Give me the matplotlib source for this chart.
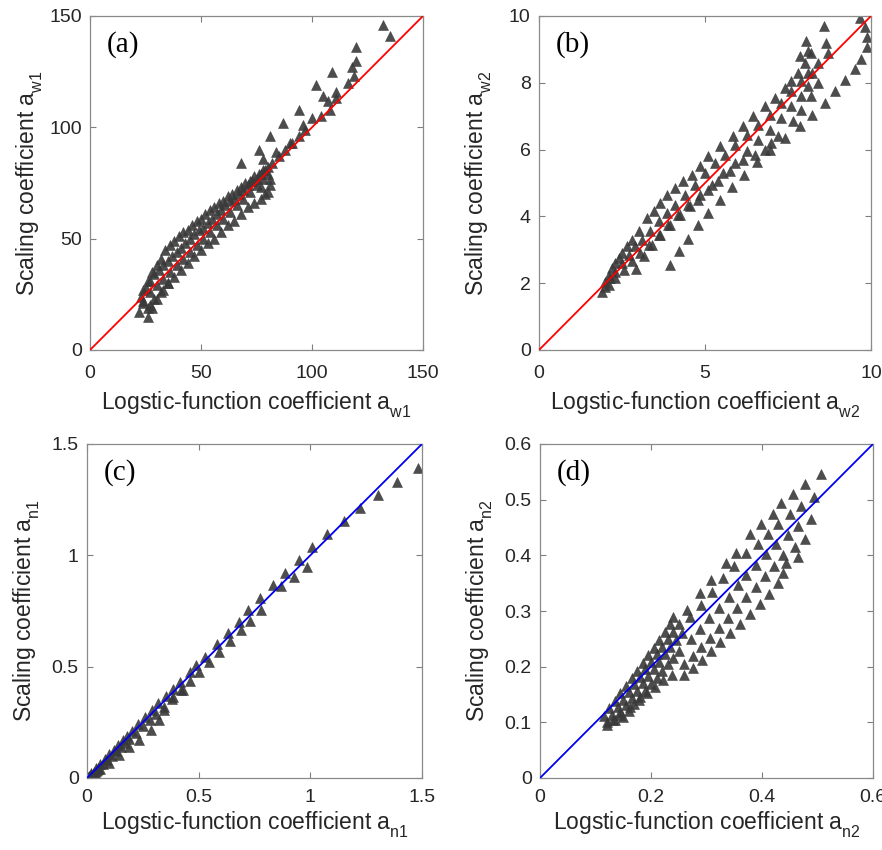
import matplotlib
matplotlib.use("Agg")
import matplotlib.pyplot as plt

plt.rcParams['font.family'] = ['Liberation Sans', 'DejaVu Sans']
plt.rcParams['mathtext.fontset'] = 'custom'
plt.rcParams['mathtext.rm'] = 'Liberation Sans'
plt.rcParams['mathtext.it'] = 'Liberation Sans'
try:
    from matplotlib import _mathtext
    _mathtext.FontConstantsBase.sub1 = 0.65
    _mathtext.FontConstantsBase.subdrop = 0.4
except Exception:
    pass

# ---------------- Panel (a): a_w1 ----------------
a_x1 = [24, 26, 28, 30, 32, 34, 36, 38, 40, 42, 44, 46, 48, 50, 52, 54, 56, 58, 60, 62, 64, 66, 68, 70, 72, 74, 76, 78]
a_y1 = [27, 31, 35, 38, 41, 45, 47, 49, 51, 53, 54, 56, 58, 59, 61, 63, 64, 66, 67, 69, 70, 72, 73, 75, 76, 78, 79, 81]
a_x2 = [23, 25, 27, 29, 31, 33, 35, 37, 39, 41, 43, 45, 47, 49, 51, 53, 55, 57, 59, 61, 63, 65, 67, 69, 71, 73, 75, 77, 79]
a_y2 = [24, 28, 31, 34, 36, 38, 40, 42, 44, 46, 48, 50, 52, 54, 55, 57, 59, 61, 63, 65, 67, 68, 70, 72, 74, 76, 77, 79, 81]
a_x3 = [24, 27, 30, 33, 36, 39, 42, 45, 48, 51, 54, 57, 60, 63, 66, 69, 72, 75, 78, 80]
a_y3 = [22, 26, 29, 32, 35, 38, 41, 44, 47, 50, 53, 56, 59, 62, 65, 68, 71, 74, 77, 79]
a_x4 = [26, 29, 32, 35, 38, 41, 44, 47, 50, 53, 56, 59, 62, 65, 68, 71, 74, 77, 80, 81, 81]
a_y4 = [19, 23, 26, 30, 33, 36, 39, 42, 45, 48, 50, 53, 56, 58, 61, 64, 66, 68, 71, 74, 77]
a_x5 = [22, 24, 26, 27, 28, 30, 33, 35]
a_y5 = [17, 21, 15, 20, 19, 23, 27, 30]
a_x6 = [76, 81, 87, 94, 102, 109, 120, 132, 78, 84, 90, 96, 105, 111, 118, 120, 135,
        80, 82, 85, 88, 91, 94, 97, 100, 104, 107, 108, 111, 116, 119, 73, 77, 79, 68]
a_y6 = [90, 96, 102, 108, 119, 125, 136, 146, 86, 89, 93, 101, 114, 116, 127, 130, 141,
        82, 84, 87, 90, 93, 96, 99, 104, 105, 112, 108, 113, 120, 123, 76, 73, 70, 84]

# ---------------- Panel (b): a_w2 ----------------
b_x1 = [1.9, 2.0, 2.1, 2.2, 2.3, 2.4, 2.5, 2.65, 2.8, 3.0, 3.25, 3.45, 3.65, 3.85, 4.1, 4.35, 4.6, 4.85, 5.1, 5.45, 5.85, 6.15, 6.45, 6.8, 7.1, 7.4, 7.6, 7.8, 8.0, 8.2]
b_y1 = [1.75, 2.05, 2.25, 2.45, 2.6, 2.75, 2.9, 3.1, 3.3, 3.55, 3.95, 4.15, 4.4, 4.65, 4.85, 5.05, 5.25, 5.5, 5.8, 6.1, 6.4, 6.7, 7.0, 7.3, 7.55, 7.85, 8.05, 8.3, 8.6, 8.9]
b_x2 = [2.0, 2.15, 2.3, 2.5, 2.7, 2.9, 3.1, 3.35, 3.6, 3.85, 4.1, 4.4, 4.7, 5.0, 5.3, 5.6, 5.9, 6.25, 6.6, 6.95, 7.3, 7.6, 7.9, 8.1]
b_y2 = [1.9, 2.15, 2.35, 2.6, 2.85, 3.1, 3.3, 3.55, 3.85, 4.1, 4.35, 4.65, 4.95, 5.3, 5.6, 5.85, 6.15, 6.45, 6.75, 7.05, 7.4, 7.75, 8.05, 8.3]
b_x3 = [2.1, 2.3, 2.55, 2.8, 3.05, 3.3, 3.6, 3.9, 4.2, 4.5, 4.85, 5.2, 5.55, 5.9, 6.25, 6.6, 6.95, 7.3, 7.6, 7.9, 8.1]
b_y3 = [1.95, 2.15, 2.4, 2.65, 2.9, 3.15, 3.45, 3.75, 4.05, 4.35, 4.65, 4.95, 5.3, 5.6, 5.95, 6.3, 6.6, 6.95, 7.3, 7.6, 7.9]
b_x4 = [2.92, 3.15, 3.4, 3.65, 3.95, 4.25, 4.55, 4.8, 5.1, 5.4, 5.75, 6.15, 6.5, 6.8, 7.0, 7.2, 7.4, 7.65, 7.9, 8.2, 8.4]
b_y4 = [2.43, 2.8, 3.15, 3.45, 3.75, 4.05, 4.3, 4.5, 4.8, 5.05, 5.35, 5.68, 5.85, 6.0, 6.2, 6.4, 6.35, 6.85, 7.2, 7.6, 8.0]
b_x5 = [3.95, 4.22, 4.5, 4.8, 5.08, 5.46, 5.81, 6.18, 6.56, 6.96, 7.87, 8.22, 8.62, 8.92, 9.23, 9.53, 9.71, 9.88, 9.88, 9.83, 9.68]
b_y5 = [2.53, 2.96, 3.33, 3.73, 4.11, 4.48, 4.88, 5.23, 5.63, 5.98, 6.7, 7.05, 7.4, 7.76, 8.08, 8.4, 8.7, 9.08, 9.36, 9.68, 9.93]
b_x6 = [8.05, 8.09, 7.87, 8.57, 8.65, 8.7, 8.39, 8.22]
b_y6 = [9.24, 8.94, 8.79, 9.71, 9.19, 8.89, 8.59, 8.29]

# ---------------- Panel (c): a_n1 ----------------
c_x1 = [0.02, 0.04, 0.06, 0.08, 0.1, 0.12, 0.14, 0.16, 0.18, 0.2, 0.23, 0.26, 0.29, 0.32, 0.354, 0.387, 0.416, 0.461, 0.49, 0.528, 0.58, 0.633, 0.682, 0.722, 0.775, 0.831, 0.888, 0.948, 1.009, 1.076, 1.152, 1.222, 1.304, 1.39, 1.484]
c_y1 = [0.022, 0.043, 0.064, 0.085, 0.106, 0.127, 0.148, 0.169, 0.19, 0.211, 0.243, 0.274, 0.305, 0.336, 0.37, 0.401, 0.43, 0.475, 0.507, 0.545, 0.6, 0.65, 0.702, 0.754, 0.807, 0.867, 0.922, 0.979, 1.039, 1.094, 1.156, 1.211, 1.271, 1.331, 1.391]
c_x2 = [0.03, 0.05, 0.07, 0.09, 0.11, 0.13, 0.15, 0.17, 0.19, 0.22, 0.25, 0.28, 0.31, 0.345, 0.38, 0.42, 0.46, 0.5, 0.545, 0.59, 0.64, 0.69, 0.73, 0.78, 0.87, 0.927, 0.985]
c_y2 = [0.027, 0.046, 0.065, 0.083, 0.101, 0.12, 0.139, 0.157, 0.176, 0.204, 0.232, 0.26, 0.288, 0.32, 0.356, 0.395, 0.435, 0.475, 0.52, 0.565, 0.615, 0.665, 0.705, 0.755, 0.864, 0.904, 0.946]
c_x3 = [0.06, 0.1, 0.145, 0.19, 0.234, 0.287, 0.324, 0.346, 0.387, 0.428]
c_y3 = [0.04, 0.066, 0.103, 0.14, 0.17, 0.216, 0.26, 0.306, 0.365, 0.395]
c_x4 = [0.002, 0.005, 0.008, 0.012, 0.016, 0.02, 0.025, 0.03, 0.035, 0.04, 0.045, 0.05]
c_y4 = [0.002, 0.004, 0.007, 0.01, 0.013, 0.016, 0.02, 0.024, 0.028, 0.032, 0.036, 0.04]

# ---------------- Panel (d): a_n2 ----------------
d_x1 = [0.115, 0.125, 0.135, 0.145, 0.155, 0.165, 0.175, 0.185, 0.195, 0.205, 0.215, 0.225, 0.235, 0.24,
        0.264, 0.288, 0.309, 0.336, 0.354, 0.378, 0.399, 0.42, 0.435, 0.455, 0.478, 0.507]
d_y1 = [0.112, 0.126, 0.139, 0.153, 0.166, 0.18, 0.193, 0.207, 0.221, 0.234, 0.248, 0.262, 0.276, 0.29,
        0.302, 0.332, 0.356, 0.386, 0.404, 0.439, 0.457, 0.475, 0.494, 0.51, 0.528, 0.547]
d_x2 = [0.12, 0.13, 0.14, 0.15, 0.16, 0.17, 0.18, 0.19, 0.2, 0.21, 0.22, 0.23, 0.24, 0.25,
        0.27, 0.29, 0.31, 0.33, 0.35, 0.372, 0.393, 0.411, 0.429, 0.45, 0.47, 0.494]
d_y2 = [0.1, 0.114, 0.127, 0.141, 0.154, 0.168, 0.181, 0.195, 0.208, 0.222, 0.235, 0.249, 0.262, 0.276,
        0.29, 0.31, 0.335, 0.36, 0.38, 0.404, 0.421, 0.439, 0.457, 0.474, 0.489, 0.505]
d_x3 = [0.135, 0.145, 0.155, 0.165, 0.175, 0.185, 0.195, 0.205, 0.215, 0.225, 0.235, 0.245, 0.255,
        0.272, 0.288, 0.305, 0.322, 0.34, 0.356, 0.372, 0.39, 0.408, 0.426, 0.446, 0.464, 0.488]
d_y3 = [0.105, 0.118, 0.131, 0.144, 0.157, 0.17, 0.183, 0.196, 0.209, 0.222, 0.235, 0.248, 0.26,
        0.25, 0.268, 0.287, 0.306, 0.326, 0.346, 0.364, 0.383, 0.403, 0.421, 0.436, 0.452, 0.466]
d_x4 = [0.15, 0.16, 0.17, 0.18, 0.19, 0.2, 0.21, 0.22, 0.23, 0.24, 0.25,
        0.26, 0.275, 0.29, 0.306, 0.322, 0.338, 0.355, 0.372, 0.39, 0.405, 0.422, 0.438, 0.459, 0.478]
d_y4 = [0.11, 0.121, 0.133, 0.145, 0.157, 0.168, 0.18, 0.192, 0.204, 0.216, 0.228,
        0.205, 0.22, 0.236, 0.252, 0.27, 0.288, 0.306, 0.325, 0.344, 0.362, 0.38, 0.4, 0.415, 0.43]
d_x5 = [0.12, 0.132, 0.145, 0.162, 0.178, 0.192, 0.208, 0.222, 0.237,
        0.26, 0.276, 0.292, 0.308, 0.325, 0.342, 0.36, 0.378, 0.396, 0.413, 0.428, 0.437, 0.444, 0.464]
d_y5 = [0.095, 0.104, 0.113, 0.128, 0.14, 0.152, 0.164, 0.176, 0.185,
        0.185, 0.198, 0.212, 0.228, 0.244, 0.26, 0.277, 0.294, 0.312, 0.33, 0.35, 0.368, 0.386, 0.397]

panels = [
    dict(pos=[90/882, 500/850, 333/882, 334/850], lim=150, ticks=[0, 50, 100, 150],
         ticklabels=['0', '50', '100', '150'], yticks=[0, 50, 100, 150],
         yticklabels=['0', '50', '100', '150'],
         xs=[a_x1, a_x2, a_x3, a_x4, a_x5, a_x6], ys=[a_y1, a_y2, a_y3, a_y4, a_y5, a_y6],
         color='#ff0000', sub='w1', tag='(a)', xpad=11, xlab=-0.118),
    dict(pos=[539/882, 500/850, 332/882, 334/850], lim=10, ticks=[0, 5, 10],
         ticklabels=['0', '5', '10'], yticks=[0, 2, 4, 6, 8, 10],
         yticklabels=['0', '2', '4', '6', '8', '10'],
         xs=[b_x1, b_x2, b_x3, b_x4, b_x5, b_x6], ys=[b_y1, b_y2, b_y3, b_y4, b_y5, b_y6],
         color='#ff0000', sub='w2', tag='(b)', xpad=11, xlab=-0.118),
    dict(pos=[87/882, 72/850, 335/882, 334/850], lim=1.5, ticks=[0, 0.5, 1, 1.5],
         ticklabels=['0', '0.5', '1', '1.5'], yticks=[0, 0.5, 1, 1.5],
         yticklabels=['0', '0.5', '1', '1.5'],
         xs=[c_x1, c_x2, c_x3, c_x4], ys=[c_y1, c_y2, c_y3, c_y4],
         color='#0000ee', sub='n1', tag='(c)', xpad=8, xlab=-0.094),
    dict(pos=[540/882, 72/850, 333/882, 334/850], lim=0.6, ticks=[0, 0.2, 0.4, 0.6],
         ticklabels=['0', '0.2', '0.4', '0.6'], yticks=[0, 0.1, 0.2, 0.3, 0.4, 0.5, 0.6],
         yticklabels=['0', '0.1', '0.2', '0.3', '0.4', '0.5', '0.6'],
         xs=[d_x1, d_x2, d_x3, d_x4, d_x5], ys=[d_y1, d_y2, d_y3, d_y4, d_y5],
         color='#0000ee', sub='n2', tag='(d)', xpad=8, xlab=-0.094),
]

fig = plt.figure(figsize=(8.82, 8.5), dpi=100)
for p in panels:
    ax = fig.add_axes(p['pos'])
    lim = p['lim']
    for xs, ys in zip(p['xs'], p['ys']):
        ax.plot(xs, ys, linestyle='none', marker='^', markersize=7.2,
                color='#3a3a3a', markeredgecolor='#3a3a3a', markeredgewidth=0.4,
                alpha=0.9, zorder=2)
    ax.plot([0, lim], [0, lim], color=p['color'], linewidth=1.3, zorder=3)
    ax.set_xlim(0, lim)
    ax.set_ylim(0, lim)
    ax.set_xticks(p['ticks'])
    ax.set_xticklabels(p['ticklabels'])
    ax.set_yticks(p['yticks'])
    ax.set_yticklabels(p['yticklabels'])
    ax.tick_params(direction='in', length=4, width=0.8, colors='#7f7f7f',
                   labelcolor='#262626', labelsize=14, top=True, right=True, pad=6)
    ax.tick_params(axis='x', pad=p['xpad'])
    for s in ax.spines.values():
        s.set_color('#8a8a8a')
        s.set_linewidth(0.9)
    ax.set_xlabel(r'Logstic-function coefficient $\mathregular{a_{%s}}$' % p['sub'],
                  fontsize=16.5, color='#262626', va='top')
    ax.xaxis.set_label_coords(0.5, p['xlab'])
    ax.set_ylabel(r'Scaling coefficient $\mathregular{a_{%s}}$' % p['sub'],
                  fontsize=16.5, color='#262626')
    ax.yaxis.set_label_coords(-0.135, 0.5)
    ax.text(0.05, 0.955, p['tag'], transform=ax.transAxes, ha='left', va='top',
            fontsize=21, family='Liberation Serif', color='black')

fig.savefig('out.png', dpi=100)
